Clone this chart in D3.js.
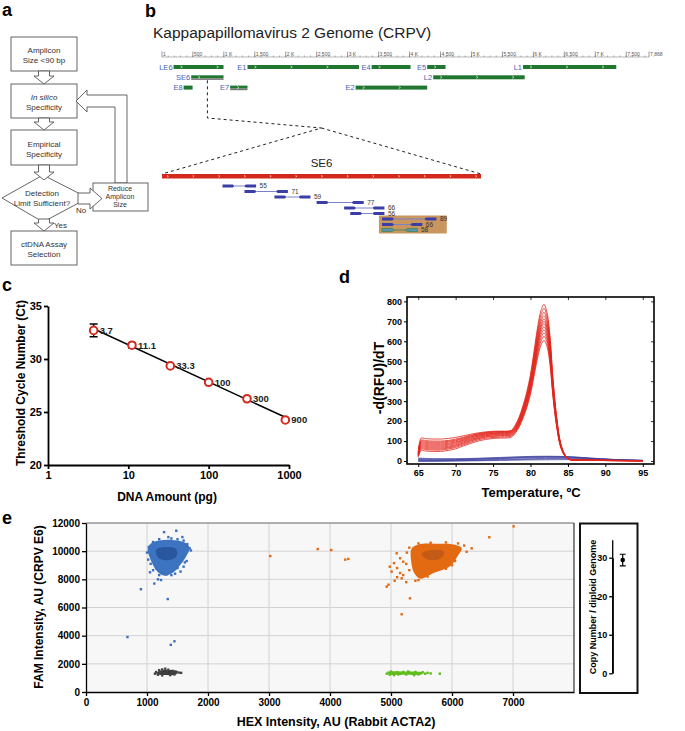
<!DOCTYPE html>
<html><head><meta charset="utf-8">
<script src="https://cdn.jsdelivr.net/npm/d3@7"></script>
<style>body{margin:0;background:#fff}svg{display:block}</style>
</head><body><svg id="fig" width="685" height="731"></svg>
<script>
// ================= DATA =================
// panel a (flowchart text)
const flowBoxes = [["Amplicon","Size <90 bp"],["In silico","Specificity"],["Empirical","Specificity"],["ctDNA Assay","Selection"]];
const flowDecision = ["Detection","Limit Sufficient?"];
const flowReduce = ["Reduce","Amplicon","Size"];
const flowBranch = ["Yes","No"];

// panel b (genome map)
const genomeTitle = "Kappapapillomavirus 2 Genome (CRPV)";
const genomeLength = 7868;
const genomeTicks = [1,500,1000,1500,2000,2500,3000,3500,4000,4500,5000,5500,6000,6500,7000,7500,7868];
const genomeTickLabels = ["1","500","1 K","1,500","2 K","2,500","3 K","3,500","4 K","4,500","5 K","5,500","6 K","6,500","7 K","7,500","7,868"];
const geneNames = ["LE6","SE6","E8","E7","E1","E4","E5","L1","L2","E2"];
const geneStart = [188,473,350,1102,1382,3387,4285,5833,4382,3129];
const geneEnd   = [995,995,495,1382,3183,4016,4581,7339,5860,4285];
const geneRow   = [0,1,2,2,0,0,0,0,1,2];
const geneSelected = [false,true,false,true,false,false,false,false,false,false];
const se6Length = 522;
const ampliconStart = [99,135,184,253,298,308,360,360,360];
const ampliconLen   = [55,71,59,77,66,56,89,66,58];
const primerLen = 20;
const highlightRange = [355,466];
const highlightIdx = [6,7,8];
const chosenIdx = 8;

// panel c (standard curve)
const dnaAmount = [3.7,11.1,33.3,100,300,900];
const dnaLabels = ["3.7","11.1","33.3","100","300","900"];
const ctMean = [32.7,31.3,29.35,27.8,26.25,24.25];
const ctErr  = [0.6,0.25,0.1,0.1,0.1,0.1];
const fitX = [3.7,900];
const fitY = [32.85,24.5];

// panel d (melt curves)
const meltTemp = [65,65.4,66,67,68,69,70,71,72,73,74,75,76,77,77.5,78,78.5,79,79.5,80,80.5,81,81.4,81.8,82.2,82.6,83,83.5,84,84.5,85,85.5,86,88,91,95];
const red1  = [44,115,112,110,110,113,118,126,134,141,146,149,150,150,155,183,222,278,345,435,557,683,754,785,746,628,416,220,94,39,13,7,6,5,4,2];
const red2  = [40,105,102,100,100,103,110,119,129,137,143,147,148,148,153,178,216,271,337,424,543,666,734,765,727,612,405,214,92,38,13,7,6,5,3,2];
const red3  = [38,100,97,95,95,99,105,115,126,135,141,144,146,147,152,174,211,264,328,413,529,648,715,745,708,596,395,209,89,37,13,6,5,4,3,2];
const red4  = [36,95,92,90,90,94,101,111,122,131,138,141,143,144,149,170,206,258,320,403,517,633,699,728,692,582,386,204,87,36,12,6,5,4,3,1];
const red5  = [34,90,87,85,85,89,96,107,119,129,135,139,141,142,147,166,201,252,313,394,506,619,684,712,676,570,377,199,85,36,12,6,5,4,3,1];
const red6  = [32,85,82,80,80,84,92,103,115,125,132,136,138,139,144,163,198,248,308,388,497,609,672,700,665,560,371,196,84,35,12,6,5,4,2,1];
const red7  = [30,80,77,75,75,79,87,99,111,122,129,133,135,136,141,160,195,244,303,381,488,599,660,688,654,550,365,193,83,34,12,5,4,4,2,1];
const red8  = [28,75,72,70,70,74,82,95,107,118,126,130,132,133,138,157,190,238,296,373,478,586,646,673,639,538,357,188,81,34,11,5,4,3,2,1];
const red9  = [26,70,67,65,65,69,78,90,103,114,122,126,128,129,134,153,186,233,290,365,467,572,632,658,625,526,349,184,79,33,11,5,4,3,2,1];
const red10 = [24,65,62,60,60,65,73,86,99,111,119,123,125,126,131,150,182,227,282,356,456,559,616,642,610,514,340,180,77,32,11,5,4,3,2,1];
const red11 = [22,60,57,55,55,60,68,81,94,106,114,118,120,121,126,146,177,221,275,346,444,544,600,625,594,500,331,175,75,31,11,5,4,3,2,1];
const red12 = [20,53,50,48,48,53,61,75,88,100,108,113,115,116,121,141,171,214,266,335,430,526,581,605,575,484,321,169,73,30,10,5,4,3,2,1];
const blueTemp = [65,67,70,73,76,79,82,85,88,91,95];
const blue1 = [15,12,12,14,18,22,24,22,15,8,4];
const blue2 = [12,9,9,12,16,20,22,21,14,8,3];
const blue3 = [8,6,7,10,14,18,21,20,13,7,3];
const blue4 = [5,4,5,8,12,16,18,18,12,7,2];
const blue5 = [2,2,3,5,8,11,13,14,10,6,2];
const blue6 = [0,0,1,3,5,8,10,11,8,5,1];
const blue7 = [-2,-2,0,1,3,5,6,7,5,3,1];

// panel e (droplet scatter)
const blueCore  = [[1050,10500],[1200,10750],[1400,10800],[1600,10650],[1700,10250],[1650,9700],[1560,9100],[1450,8550],[1300,8250],[1180,8500],[1100,9000],[1040,9600],[1010,10100]];
const blueInner = [[1150,10100],[1300,10300],[1480,10150],[1480,9600],[1320,9350],[1180,9550]];
const blueDots = [[1280,11350],[1480,11450],[900,7300],[1120,7700],[1340,6600],[680,3900],[1390,3350],[1450,3600],[1050,8500],[1100,8650],[1180,8000],[1230,7950],[1400,8300],[1460,8400],[1550,8550],[1600,8900],[1650,9300],[1700,10200],[1720,10050],[1660,10500],[1600,10750],[1500,10850],[1400,10900],[1200,10850],[1100,10650],[1030,10300],[1000,9900],[1020,9400],[1060,9100],[1150,8800],[1250,8450],[1320,8350],[1500,8800],[1580,9600],[1640,10400],[1350,11000],[1580,11000],[1080,9700],[1620,9200],[1200,8300]];
const orangeCore  = [[5340,10200],[5450,10480],[5800,10520],[6050,10450],[6160,10200],[6100,9700],[5970,8950],[5700,8450],[5480,8050],[5380,8450],[5330,9300]];
const orangeInner = [[5500,9800],[5650,10080],[5870,9980],[5820,9500],[5600,9400]];
const orangeDots = [[3020,9650],[3800,10150],[4020,10080],[4250,9400],[4300,9450],[5175,5520],[5311,6655],[4930,7480],[4960,7620],[5175,8070],[5010,8550],[5093,9850],[5060,7900],[5250,7800],[5400,7900],[5200,8300],[5100,8800],[5250,9100],[5150,9500],[5260,9900],[5300,10250],[5450,10550],[5650,10600],[5900,10620],[6100,10550],[6240,9960],[6323,10200],[6612,10990],[7010,11760],[6200,10400],[6050,9300],[5900,8750],[5600,8200],[5450,7950],[5300,8650],[5200,9250],[5050,9150],[5150,8450],[5350,9700],[6000,9000],[4980,8900],[5100,8150]];
const blackCore = [[1150,1300],[1200,1500],[1350,1560],[1500,1480],[1480,1260],[1300,1200]];
const blackDots = [[1130,1300],[1150,1420],[1200,1550],[1250,1600],[1300,1650],[1350,1580],[1420,1500],[1480,1420],[1520,1380],[1560,1360],[1450,1250],[1380,1200],[1250,1180],[1180,1230],[1330,1450],[1280,1320],[1400,1350],[1220,1400]];
const greenCore = [[4950,1260],[4980,1420],[5200,1450],[5500,1400],[5520,1280],[5200,1220]];
const greenDots = [[4930,1300],[4960,1380],[5000,1450],[5050,1200],[5100,1400],[5150,1300],[5200,1420],[5250,1250],[5300,1380],[5350,1300],[5400,1420],[5450,1250],[5480,1350],[5520,1400],[5560,1300],[5600,1360],[5650,1320],[5800,1300],[5030,1350],[5120,1250],[5280,1450],[5380,1200],[4980,1230]];
const copyNumberMean = 29.4;
const copyNumberErr = 1.5;

// ================= DRAW =================
const F = '"Liberation Sans", Arial, Helvetica, sans-serif';
const svg = d3.select("#fig").attr("font-family", F);
svg.append("rect").attr("width",685).attr("height",731).attr("fill","#fff");

function T(g,x,y,s,o){o=o||{};const t=g.append("text").attr("x",x).attr("y",y).text(s)
  .attr("font-size",o.size||10).attr("font-weight",o.bold?"bold":"normal").attr("fill",o.fill||"#111")
  .attr("text-anchor",o.anchor||"start");if(o.italic)t.attr("font-style","italic");if(o.rot)t.attr("transform",`rotate(-90,${x},${y})`);return t;}

// panel letters
[["a",2,16],["b",145,17],["c",2,291],["d",339,283],["e",2,524]].forEach(d=>T(svg,d[1],d[2],d[0],{bold:true,size:18,fill:"#000"}));

// ---------- panel a ----------
const gA = svg.append("g");
const st = "#555";
function poly(pts){gA.append("path").attr("d","M"+pts.map(p=>p.join(",")).join("L")+"Z").attr("fill","#fff").attr("stroke",st).attr("stroke-width",0.9);}
function rectA(x,y,w,h){gA.append("rect").attr("x",x).attr("y",y).attr("width",w).attr("height",h).attr("fill","#fff").attr("stroke",st).attr("stroke-width",0.9);}
function downArrow(cx,y0,y1){const s=5.5,h=10,hl=8;poly([[cx-s,y0],[cx+s,y0],[cx+s,y1-hl],[cx+h,y1-hl],[cx,y1],[cx-h,y1-hl],[cx-s,y1-hl]]);}
const boxY=[37,84,130,231], boxH=[34,34,35,34];
flowBoxes.forEach((lines,i)=>{rectA(11,boxY[i],66,boxH[i]);
  lines.forEach((l,j)=>T(gA,44,boxY[i]+boxH[i]/2-1+j*10,l,{size:8,anchor:"middle",fill:"#333",italic:(i===1&&j===0)}));});
poly([[43,175],[88,198],[43,222],[2,198]]);
flowDecision.forEach((l,j)=>T(gA,42,196+j*10,l,{size:8,anchor:"middle",fill:"#333"}));
// feedback arrow
poly([[115,183],[115,107],[87,107],[87,112],[76,101],[87,90],[87,95],[127,95],[127,183]]);
rectA(93,183,55,28);
flowReduce.forEach((l,j)=>T(gA,120,191+j*8,l,{size:7,anchor:"middle",fill:"#333"}));
// right arrow decision -> reduce
poly([[78,193],[90,193],[90,188],[102,198.5],[90,209],[90,204],[78,204]]);
downArrow(44,71,84); downArrow(44,118,130); downArrow(44,165,180); downArrow(44,219,231);
T(gA,54,228,flowBranch[0],{size:8,fill:"#333"});
T(gA,76,213,flowBranch[1],{size:8,fill:"#333"});

// ---------- panel b ----------
const gB = svg.append("g");
T(gB,153,38,genomeTitle,{size:15.5,fill:"#222"});
const xG = d3.scaleLinear().domain([1,genomeLength]).range([162,649]);
const rulerY = 57;
gB.append("line").attr("x1",xG(1)).attr("x2",xG(genomeLength)).attr("y1",rulerY).attr("y2",rulerY).attr("stroke","#888").attr("stroke-width",0.6);
gB.selectAll(".mt").data(d3.range(100,genomeLength,100)).join("line").attr("x1",d=>xG(d)).attr("x2",d=>xG(d)).attr("y1",rulerY).attr("y2",rulerY-1.5).attr("stroke","#777").attr("stroke-width",0.6);
gB.selectAll(".Mt").data(genomeTicks).join("line").attr("x1",d=>xG(d)).attr("x2",d=>xG(d)).attr("y1",rulerY).attr("y2",rulerY-5.5).attr("stroke","#555").attr("stroke-width",0.6);
genomeTicks.forEach((t,i)=>T(gB,xG(t)+1,rulerY-1.5,genomeTickLabels[i],{size:5,fill:"#555"}));
const rowY = r=>67+r*10.3;
const green="#21772f";
geneNames.forEach((n,i)=>{
  const x0=xG(geneStart[i]),x1=xG(geneEnd[i]),y=rowY(geneRow[i]);
  gB.append("rect").attr("x",x0).attr("y",y-2).attr("width",x1-x0).attr("height",geneSelected[i]?3:4).attr("fill",green);
  if(geneSelected[i]) gB.append("rect").attr("x",x0).attr("y",y+1).attr("width",x1-x0).attr("height",1.6).attr("fill","#777");
  for(let x=x0+7;x<x1-4;x+=36) gB.append("path").attr("d",`M${x},${y-1.2}L${x+1.8},${y}L${x},${y+1.2}`).attr("fill","none").attr("stroke","#fff").attr("stroke-width",0.6);
  T(gB,x0-1,y+2.7,n,{size:7.5,anchor:"end",fill:"#4a62b3"});
});
// zoom dashed lines
const xS = d3.scaleLinear().domain([0,se6Length]).range([162,481]);
const se6Mid = xG((geneStart[1]+geneEnd[1])/2);
const apexX = (xS(0)+xS(se6Length))/2, redY=174;
gB.append("path").attr("d",`M${se6Mid},${rowY(1)+3}L${se6Mid},118L${apexX},128L${xS(0)},${redY}M${apexX},128L${xS(se6Length)},${redY}`)
  .attr("fill","none").attr("stroke","#222").attr("stroke-width",1).attr("stroke-dasharray","3,3");
T(gB,apexX,167,geneNames[1],{size:11.5,anchor:"middle",fill:"#222"});
gB.append("rect").attr("x",xS(0)).attr("y",redY).attr("width",xS(se6Length)-xS(0)).attr("height",4.5).attr("fill","#d3281c");
for(let x=xS(0)+5;x<xS(se6Length)-2;x+=25.7) gB.append("path").attr("d",`M${x},${redY+1.3}L${x+1.4},${redY+2.3}L${x},${redY+3.2}`).attr("fill","none").attr("stroke","#fff").attr("stroke-width",0.6);
// highlight box
const hy0 = 186+highlightIdx[0]*5.5-3.5, hy1 = 186+highlightIdx[highlightIdx.length-1]*5.5+3.5;
gB.append("rect").attr("x",xS(highlightRange[0])).attr("y",hy0).attr("width",xS(highlightRange[1])-xS(highlightRange[0])).attr("height",hy1-hy0).attr("fill","#c8965e");
ampliconStart.forEach((s,i)=>{
  const y=186+i*5.5, e=s+ampliconLen[i];
  const chosen = i===chosenIdx;
  const fill = chosen?"#5f8fb0":"#3a3ea6", strk = chosen?"#2f8a3a":"none";
  gB.append("line").attr("x1",xS(s+primerLen)).attr("x2",xS(e-primerLen)).attr("y1",y).attr("y2",y).attr("stroke",chosen?"#4a8a5a":"#7d80c9").attr("stroke-width",1);
  const a0=xS(s),a1=xS(s+primerLen),b0=xS(e-primerLen),b1=xS(e);
  gB.append("path").attr("d",`M${a0},${y-1.6}L${a1-2},${y-1.6}L${a1},${y}L${a1-2},${y+1.6}L${a0},${y+1.6}Z`).attr("fill",fill).attr("stroke",strk).attr("stroke-width",0.7);
  gB.append("path").attr("d",`M${b1},${y-1.6}L${b0+2},${y-1.6}L${b0},${y}L${b0+2},${y+1.6}L${b1},${y+1.6}Z`).attr("fill",fill).attr("stroke",strk).attr("stroke-width",0.7);
  T(gB,b1+3.5,y+2.3,String(ampliconLen[i]),{size:6.5,fill:"#333"});
});

// ---------- panel c ----------
const gC = svg.append("g");
const xC = d3.scaleLog().domain([1,1000]).range([48,289]);
const yC = d3.scaleLinear().domain([20,35]).range([465,306]);
function styleAxis(g,size,sw){g.attr("font-family",F).attr("font-size",size).attr("font-weight","bold");
  g.selectAll("path").attr("stroke","#000").attr("stroke-width",sw);g.selectAll("line").attr("stroke","#000").attr("stroke-width",sw);g.selectAll("text").attr("fill","#000");}
styleAxis(gC.append("g").attr("transform","translate(48,0)").call(d3.axisLeft(yC).tickValues([20,25,30,35]).tickSize(4).tickSizeOuter(0).tickPadding(2)),11,1.8);
styleAxis(gC.append("g").attr("transform","translate(0,465)").call(d3.axisBottom(xC).tickValues([1,10,100,1000]).tickFormat(d3.format("d")).tickSize(4).tickSizeOuter(0).tickPadding(2)),11,1.8);
gC.append("line").attr("x1",xC(fitX[0])).attr("x2",xC(fitX[1])).attr("y1",yC(fitY[0])).attr("y2",yC(fitY[1])).attr("stroke","#000").attr("stroke-width",1.5);
dnaAmount.forEach((x,i)=>{
  const cx=xC(x);
  gC.append("path").attr("d",`M${cx},${yC(ctMean[i]-ctErr[i])}V${yC(ctMean[i]+ctErr[i])}M${cx-4},${yC(ctMean[i]-ctErr[i])}H${cx+4}M${cx-4},${yC(ctMean[i]+ctErr[i])}H${cx+4}`).attr("stroke","#000").attr("stroke-width",1.3);
  gC.append("circle").attr("cx",cx).attr("cy",yC(ctMean[i])).attr("r",3.8).attr("fill","#fff").attr("stroke","#d62a1e").attr("stroke-width",2);
  T(gC,cx+6,yC(ctMean[i])+3.3,dnaLabels[i],{size:9.5,bold:true,fill:"#222"});
});
T(gC,25,383,"Threshold Cycle Number  (Ct)",{size:12,bold:true,anchor:"middle",rot:true,fill:"#000"});
T(gC,167,501,"DNA Amount (pg)",{size:12,bold:true,anchor:"middle",fill:"#000"});

// ---------- panel d ----------
const gD = svg.append("g");
const xD = d3.scaleLinear().domain([63.5,96.5]).range([407,654]);
const yD = d3.scaleLinear().domain([-15,822]).range([464,297]);
const lineRed = d3.line().x((d,i)=>xD(meltTemp[i])).y(d=>yD(d)).curve(d3.curveCatmullRom.alpha(0.5));
const lineBlue = d3.line().x((d,i)=>xD(blueTemp[i])).y(d=>yD(d)).curve(d3.curveMonotoneX);
[blue1,blue2,blue3,blue4,blue5,blue6,blue7].forEach(s=>gD.append("path").attr("d",lineBlue(s)).attr("fill","none").attr("stroke","#3c3f9e").attr("stroke-width",0.7));
[red1,red2,red3,red4,red5,red6,red7,red8,red9,red10,red11,red12].forEach(s=>gD.append("path").attr("d",lineRed(s)).attr("fill","none").attr("stroke","#e2251b").attr("stroke-width",0.8));
gD.append("rect").attr("x",407).attr("y",297).attr("width",247).attr("height",167).attr("fill","none").attr("stroke","#000").attr("stroke-width",1.6);
const dTicksY=[0,100,200,300,400,500,600,700,800], dTicksX=[65,70,75,80,85,90,95];
const ax1=gD.append("g").attr("transform","translate(407,0)").call(d3.axisLeft(yD).tickValues(dTicksY).tickSize(3).tickSizeOuter(0).tickPadding(2));
ax1.select(".domain").remove(); styleAxis(ax1,9,1);
const ax2=gD.append("g").attr("transform","translate(0,464)").call(d3.axisBottom(xD).tickValues(dTicksX).tickSize(3).tickSizeOuter(0).tickPadding(3));
ax2.select(".domain").remove(); styleAxis(ax2,9,1);
const ax3=gD.append("g").attr("transform","translate(0,297)").call(d3.axisTop(xD).tickValues(dTicksX).tickSize(-3).tickFormat(""));
ax3.select(".domain").remove(); styleAxis(ax3,9,0.8);
const ax4=gD.append("g").attr("transform","translate(654,0)").call(d3.axisRight(yD).tickValues(dTicksY).tickSize(-3).tickFormat(""));
ax4.select(".domain").remove(); styleAxis(ax4,9,0.8);
T(gD,384,378,"-d(RFU)/dT",{size:14,bold:true,anchor:"middle",rot:true,fill:"#000"});
T(gD,531,497,"Temperature, ºC",{size:13,bold:true,anchor:"middle",fill:"#000"});

// ---------- panel e ----------
const gE = svg.append("g");
const xE = d3.scaleLinear().domain([0,8000]).range([86,574]);
const yE = d3.scaleLinear().domain([0,12000]).range([692,523]);
gE.append("rect").attr("x",86).attr("y",523).attr("width",488).attr("height",169).attr("fill","#f7f7f7");
const eTicksX=[0,1000,2000,3000,4000,5000,6000,7000], eTicksY=[0,2000,4000,6000,8000,10000,12000];
gE.selectAll(".gx").data(eTicksX.slice(1)).join("line").attr("x1",d=>xE(d)).attr("x2",d=>xE(d)).attr("y1",523).attr("y2",692).attr("stroke","#d2d2d2").attr("stroke-width",1);
gE.selectAll(".gy").data(eTicksY.slice(1,-1)).join("line").attr("x1",86).attr("x2",574).attr("y1",d=>yE(d)).attr("y2",d=>yE(d)).attr("stroke","#d2d2d2").attr("stroke-width",1);
gE.append("line").attr("x1",86).attr("x2",574).attr("y1",523).attr("y2",523).attr("stroke","#666").attr("stroke-width",1.2);
gE.append("line").attr("x1",574).attr("x2",574).attr("y1",523).attr("y2",692).attr("stroke","#333").attr("stroke-width",1.2);
const blob = d3.line().x(d=>xE(d[0])).y(d=>yE(d[1])).curve(d3.curveCatmullRomClosed.alpha(0.5));
function cluster(core,inner,dots,c1,c2,cd){
  gE.append("path").attr("d",blob(core)).attr("fill",c1);
  if(inner) gE.append("path").attr("d",blob(inner)).attr("fill",c2).attr("opacity",0.7);
  gE.selectAll(null).data(dots).join("rect").attr("x",d=>xE(d[0])-1.2).attr("y",d=>yE(d[1])-1.2).attr("width",2.4).attr("height",2.4).attr("fill",cd);
}
cluster(blueCore,blueInner,blueDots,"#3d74c2","#1f4c92","#3b6fbf");
cluster(orangeCore,orangeInner,orangeDots,"#e46a12","#b5561a","#e2690f");
cluster(blackCore,null,blackDots,"#3a3a3a",null,"#444");
cluster(greenCore,null,greenDots,"#66c220",null,"#5dbb1c");
styleAxis(gE.append("g").attr("transform","translate(86,0)").call(d3.axisLeft(yE).tickValues(eTicksY).tickFormat(d3.format("d")).tickSize(4).tickSizeOuter(0).tickPadding(2)),10,1.3);
styleAxis(gE.append("g").attr("transform","translate(0,692)").call(d3.axisBottom(xE).tickValues(eTicksX).tickFormat(d3.format("d")).tickSize(4).tickSizeOuter(0).tickPadding(3)),10,1.3);
T(gE,43,607,"FAM Intensity, AU (CRPV E6)",{size:12,bold:true,anchor:"middle",rot:true,fill:"#000"});
T(gE,336,726,"HEX Intensity, AU (Rabbit ACTA2)",{size:12.5,bold:true,anchor:"middle",fill:"#000"});
// side panel
gE.append("rect").attr("x",580).attr("y",523.5).attr("width",57.5).attr("height",169.5).attr("fill","#fff").attr("stroke","#111").attr("stroke-width",2);
const yS = d3.scaleLinear().domain([0,30]).range([673.3,557.7]);
styleAxis(gE.append("g").attr("transform","translate(612.7,0)").call(d3.axisLeft(yS).tickValues([0,10,20,30]).tickSize(3.5).tickSizeOuter(0).tickPadding(2)),9,1.3);
gE.append("line").attr("x1",612.7).attr("x2",612.7).attr("y1",yS(0)).attr("y2",yS(34.5)).attr("stroke","#000").attr("stroke-width",1.3);
const px=622.7;
gE.append("path").attr("d",`M${px},${yS(copyNumberMean-copyNumberErr)}V${yS(copyNumberMean+copyNumberErr)}M${px-3},${yS(copyNumberMean-copyNumberErr)}H${px+3}M${px-3},${yS(copyNumberMean+copyNumberErr)}H${px+3}`).attr("stroke","#000").attr("stroke-width",1.2);
gE.append("circle").attr("cx",px).attr("cy",yS(copyNumberMean)).attr("r",2.3).attr("fill","#000");
T(gE,596,607,"Copy Number / diploid Genome",{size:9,bold:true,anchor:"middle",rot:true,fill:"#000"});
</script></body></html>
